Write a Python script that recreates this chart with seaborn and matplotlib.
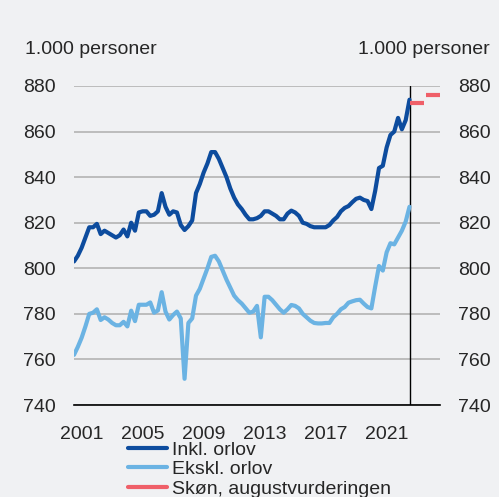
import numpy as np
import pandas as pd
import seaborn as sns
import matplotlib.pyplot as plt
from matplotlib.lines import Line2D

# kvartalsdata 2001K1 - 2023K1 (1.000 personer)
inkl_orlov = [803, 805.5, 809, 813.5, 818, 818, 819.5, 815, 816.5, 815.5,
              814.5, 813.5, 814.5, 817, 814, 820, 816.5, 824.5, 825, 825,
              823, 823.5, 825, 833, 827, 823.5, 825, 824.5, 819, 816.8,
              818.5, 821, 833, 837, 842, 846, 851, 851, 848, 844,
              840, 835, 831, 828, 826, 823.5, 821.5, 821.5, 822, 823,
              825, 825, 824, 823, 821.5, 821.5, 824, 825.3, 824.5, 823,
              820, 819.5, 818.5, 818, 818, 818, 818, 819, 821, 822.5,
              825, 826.5, 827.3, 829, 830.5, 831, 830, 829.5, 826, 834,
              844, 845, 853, 858.5, 860, 866, 861, 865, 874]
ekskl_orlov = [762, 765.5, 769.5, 774.5, 780, 780.5, 782, 777.3, 778.5, 777.5,
               776, 775, 775, 776.5, 774.5, 781.4, 776.8, 784, 784, 784,
               785, 780.5, 781.5, 789.5, 781, 777.5, 779.5, 781, 778, 751.5,
               776, 778, 788, 791, 795.5, 800, 805, 805.5, 803, 799,
               795, 791.5, 788, 786, 784.5, 782.5, 780.5, 781, 783.5, 769.7,
               787.5, 787.5, 786, 784, 782, 780.5, 782, 783.9, 783.5, 782.4,
               780, 778.5, 777, 776, 775.8, 775.8, 776, 776, 778.5, 780,
               782, 783, 784.9, 785.5, 786, 786.2, 784.5, 783, 782.4, 792,
               801, 799, 807, 811, 810.5, 813.5, 816.5, 820.5, 827]
skon_aar = [2023, 2024]
skon_verdi = [872.5, 876]

tid = 2001 + np.arange(len(inkl_orlov)) / 4
df = pd.DataFrame({
    "tid": np.concatenate([tid, tid]),
    "verdi": inkl_orlov + ekskl_orlov,
    "serie": ["Inkl. orlov"] * len(tid) + ["Ekskl. orlov"] * len(tid),
})

bg = "#F0F1F3"
farger = {"Inkl. orlov": "#0D4C9E", "Ekskl. orlov": "#6BB3E3"}
rod = "#EF5F68"

sns.set_style("white")
plt.rcParams["font.family"] = ["Liberation Sans", "DejaVu Sans"]
plt.rcParams["font.size"] = 14

fig = plt.figure(figsize=(4.99, 4.97), dpi=100, facecolor=bg)
ax = fig.add_axes([74 / 499, 1 - 405 / 497, 366 / 499, 319 / 497])
ax.set_facecolor(bg)

sns.lineplot(data=df, x="tid", y="verdi", hue="serie", palette=farger,
             linewidth=3, ax=ax, legend=False, zorder=3)
for aar, v in zip(skon_aar, skon_verdi):
    ax.hlines(v, aar + 0.05, aar + 0.97, color=rod, linewidth=3, zorder=3)

ax.axvline(2023, color="black", linewidth=1, zorder=2)

ax.set_xlim(2001, 2025)
ax.set_ylim(740, 880)
ax.set_xlabel("")
ax.set_ylabel("")

ax.set_yticks(np.arange(740, 881, 20))
ax.yaxis.grid(True, color="#B8B8B8", linewidth=1.3)
ax.tick_params(axis="y", length=0, pad=13, labelleft=True, labelright=True)

ax.set_xticks(np.arange(2001, 2026, 1))
ax.set_xticklabels([])
ax.set_xticks(np.arange(2001, 2022, 4) + 0.5, minor=True)
ax.set_xticklabels([str(a) for a in range(2001, 2022, 4)], minor=True)
ax.tick_params(axis="x", which="major", length=7, width=1.2, color="black", direction="out")
ax.tick_params(axis="x", which="minor", length=0, pad=15)

for s in ["left", "right", "top"]:
    ax.spines[s].set_visible(False)
ax.spines["bottom"].set_color("black")
ax.spines["bottom"].set_linewidth(1.2)

fig.text(25 / 499, 1 - 49 / 497, "1.000 personer", va="center", ha="left")
fig.text(490 / 499, 1 - 49 / 497, "1.000 personer", va="center", ha="right")

handles = [Line2D([], [], color=farger["Inkl. orlov"], lw=3),
           Line2D([], [], color=farger["Ekskl. orlov"], lw=3),
           Line2D([], [], color=rod, lw=3)]
labels = ["Inkl. orlov", "Ekskl. orlov", "Skøn, augustvurderingen"]
fig.legend(handles, labels, loc="upper left", bbox_to_anchor=(128 / 499, 1 - 441 / 497),
           frameon=False, handlelength=2.0, handletextpad=0.25, labelspacing=0.1,
           borderpad=0, borderaxespad=0)

fig.savefig("out.png", dpi=100, facecolor=bg)
